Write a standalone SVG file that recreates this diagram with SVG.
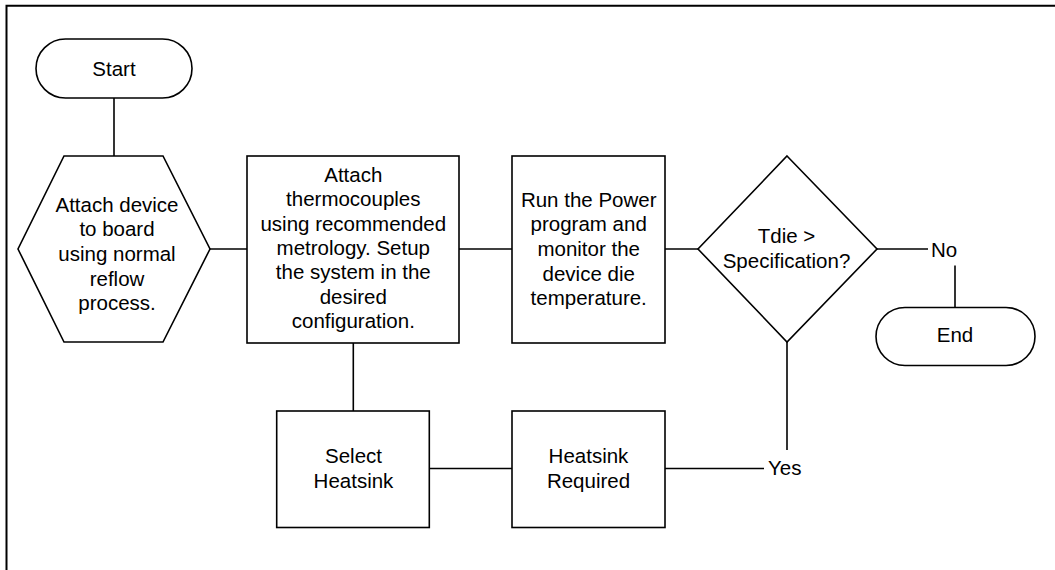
<svg xmlns="http://www.w3.org/2000/svg" width="1055" height="570" viewBox="0 0 1055 570">
<style>
.s{fill:#fff;stroke:#000;stroke-width:1.6}
.c{fill:none;stroke:#000;stroke-width:1.6}
.t{font-family:"Liberation Sans",Arial,sans-serif;font-size:20.5px;fill:#000;text-anchor:middle}
.l{font-family:"Liberation Sans",Arial,sans-serif;font-size:20.5px;fill:#000}
</style>
<rect x="0" y="0" width="1055" height="570" fill="#fff"/>
<path d="M6.5,572 V5.7 H1057" fill="none" stroke="#000" stroke-width="2"/>
<g id="connectors">
<path class="c" d="M114,98 V156"/>
<path class="c" d="M210,249 H247"/>
<path class="c" d="M459,249 H512"/>
<path class="c" d="M665,249 H698"/>
<path class="c" d="M877,249 H928"/>
<path class="c" d="M955,265.5 V307.5"/>
<path class="c" d="M787,342 V450"/>
<path class="c" d="M665,468.5 H764"/>
<path class="c" d="M429,468.5 H512"/>
<path class="c" d="M353.3,343 V411"/>
<text class="l" x="931" y="256.5">No</text>
<text class="l" x="768" y="474.5">Yes</text>
</g>
<g id="start">
<rect class="s" x="36" y="39" width="156" height="59" rx="29.5" ry="29.5"/>
<text class="t" x="114" y="75.5">Start</text>
</g>
<g id="attach-device">
<polygon class="s" points="64,156 163,156 210,249 163,342 64,342 18,249"/>
<text class="t"><tspan x="117" y="211.7">Attach device</tspan><tspan x="117" y="236.3">to board</tspan><tspan x="117" y="260.9">using normal</tspan><tspan x="117" y="285.5">reflow</tspan><tspan x="117" y="310">process.</tspan></text>
</g>
<g id="attach-thermocouples">
<rect class="s" x="247" y="156" width="212" height="187"/>
<text class="t"><tspan x="353.3" y="181.7">Attach</tspan><tspan x="353.3" y="206.1">thermocouples</tspan><tspan x="353.3" y="230.5">using recommended</tspan><tspan x="353.3" y="254.9">metrology. Setup</tspan><tspan x="353.3" y="279.3">the system in the</tspan><tspan x="353.3" y="303.7">desired</tspan><tspan x="353.3" y="328.1">configuration.</tspan></text>
</g>
<g id="run-power">
<rect class="s" x="512" y="156" width="153" height="187"/>
<text class="t"><tspan x="588.7" y="206.7">Run the Power</tspan><tspan x="588.7" y="231.3">program and</tspan><tspan x="588.7" y="255.9">monitor the</tspan><tspan x="588.7" y="280.5">device die</tspan><tspan x="588.7" y="305">temperature.</tspan></text>
</g>
<g id="decision">
<polygon class="s" points="787,156 877,249 787,342 698,249"/>
<text class="t"><tspan x="786.5" y="243">Tdie &gt;</tspan><tspan x="786.5" y="267.5">Specification?</tspan></text>
</g>
<g id="end">
<rect class="s" x="876" y="307.5" width="159" height="58" rx="29" ry="29"/>
<text class="t" x="955" y="341.7">End</text>
</g>
<g id="select-heatsink">
<rect class="s" x="276.7" y="411" width="152.6" height="116.5"/>
<text class="t"><tspan x="353.5" y="463.3">Select</tspan><tspan x="353.5" y="487.7">Heatsink</tspan></text>
</g>
<g id="heatsink-required">
<rect class="s" x="512" y="411" width="153" height="116.5"/>
<text class="t"><tspan x="588.5" y="463.3">Heatsink</tspan><tspan x="588.5" y="487.7">Required</tspan></text>
</g>
</svg>
